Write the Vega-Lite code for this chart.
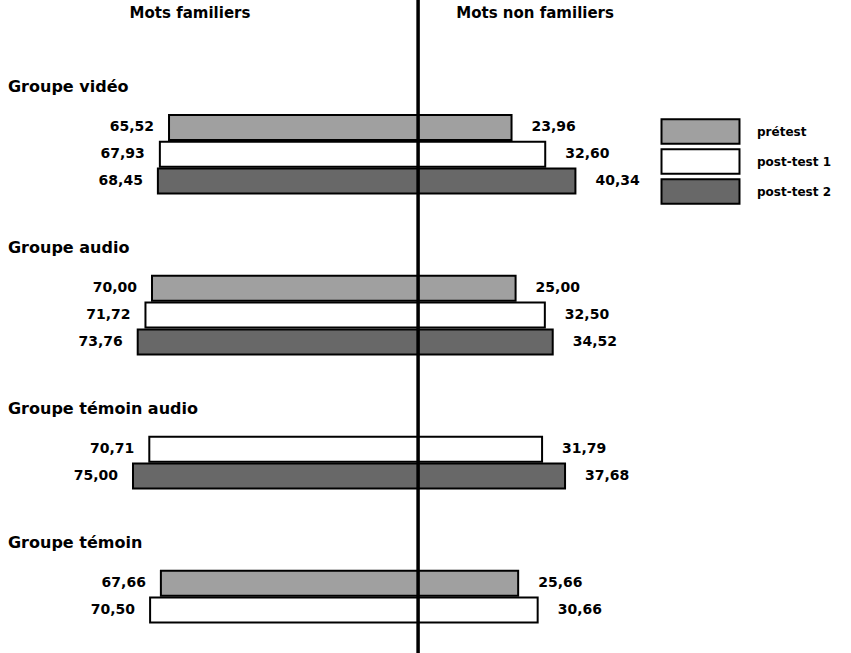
{
  "$schema": "https://vega.github.io/schema/vega-lite/v6.json",
  "width": 851,
  "height": 657,
  "padding": 0,
  "autosize": {"type": "none"},
  "background": "white",
  "config": {
    "view": {"stroke": null},
    "font": "DejaVu Sans",
    "locale": {"number": {"decimal": ",", "thousands": " ", "grouping": [3], "currency": ["", " €"]}},
    "text": {"font": "DejaVu Sans", "fontWeight": "bold", "fontSize": 14, "color": "black"}
  },
  "datasets": {
    "scores": [
      {"ligne": "vidéo prétest", "groupe": "Groupe vidéo", "test": "prétest", "familiers": 65.52, "non_familiers": 23.96},
      {"ligne": "vidéo post-test 1", "groupe": "Groupe vidéo", "test": "post-test 1", "familiers": 67.93, "non_familiers": 32.60},
      {"ligne": "vidéo post-test 2", "groupe": "Groupe vidéo", "test": "post-test 2", "familiers": 68.45, "non_familiers": 40.34},
      {"ligne": "audio prétest", "groupe": "Groupe audio", "test": "prétest", "familiers": 70.00, "non_familiers": 25.00},
      {"ligne": "audio post-test 1", "groupe": "Groupe audio", "test": "post-test 1", "familiers": 71.72, "non_familiers": 32.50},
      {"ligne": "audio post-test 2", "groupe": "Groupe audio", "test": "post-test 2", "familiers": 73.76, "non_familiers": 34.52},
      {"ligne": "témoin audio post-test 1", "groupe": "Groupe témoin audio", "test": "post-test 1", "familiers": 70.71, "non_familiers": 31.79},
      {"ligne": "témoin audio post-test 2", "groupe": "Groupe témoin audio", "test": "post-test 2", "familiers": 75.00, "non_familiers": 37.68},
      {"ligne": "témoin prétest", "groupe": "Groupe témoin", "test": "prétest", "familiers": 67.66, "non_familiers": 25.66},
      {"ligne": "témoin post-test 1", "groupe": "Groupe témoin", "test": "post-test 1", "familiers": 70.50, "non_familiers": 30.66}
    ],
    "groupes": [
      {"ligne": "Groupe vidéo"},
      {"ligne": "Groupe audio"},
      {"ligne": "Groupe témoin audio"},
      {"ligne": "Groupe témoin"}
    ],
    "entetes": [
      {"ligne": "entête", "cote": "familiers", "texte": "Mots familiers"},
      {"ligne": "entête", "cote": "non familiers", "texte": "Mots non familiers"}
    ],
    "centre": [{"valeur": 0}]
  },
  "layer": [
    {
      "data": {"name": "scores"},
      "mark": {"type": "bar", "height": 25, "stroke": "black", "strokeWidth": 2},
      "encoding": {
        "y": {
          "field": "ligne",
          "type": "nominal",
          "axis": null,
          "scale": {
            "paddingInner": 0,
            "paddingOuter": 0,
            "domain": [
              "entête", "s1", "s2", "s3", "s4", "s5",
              "Groupe vidéo", "s6", "s7",
              "vidéo prétest", "s8", "vidéo post-test 1", "s9", "vidéo post-test 2",
              "s10", "s11", "s12", "s13",
              "Groupe audio", "s14", "s15",
              "audio prétest", "s16", "audio post-test 1", "s17", "audio post-test 2",
              "s18", "s19", "s20", "s21",
              "Groupe témoin audio", "s22", "s23",
              "témoin audio post-test 1", "s24", "témoin audio post-test 2",
              "s25", "s26", "s27", "s28",
              "Groupe témoin", "s29", "s30",
              "témoin prétest", "s31", "témoin post-test 1",
              "s32", "s33", "s34"
            ]
          }
        },
        "x": {"field": "familiers", "type": "quantitative", "axis": null,
              "scale": {"domain": [-113.95, 110], "reverse": true, "nice": false, "zero": false}},
        "x2": {"datum": 0},
        "fill": {"field": "test", "type": "nominal",
                 "scale": {"domain": ["prétest", "post-test 1", "post-test 2"], "range": ["#a0a0a0", "#ffffff", "#686868"]},
                 "legend": {
                   "title": null, "orient": "none", "legendX": 687, "legendY": 118,
                   "symbolType": "M-3.2,-1H3.2V1H-3.2Z", "symbolSize": 594,
                   "symbolStrokeColor": "black", "symbolStrokeWidth": 2,
                   "labelFont": "DejaVu Sans", "labelFontWeight": "bold", "labelFontSize": 12,
                   "labelColor": "black", "labelOffset": 43, "rowPadding": -3
                 }}
      }
    },
    {
      "data": {"name": "scores"},
      "mark": {"type": "bar", "height": 25, "stroke": "black", "strokeWidth": 2},
      "encoding": {
        "y": {"field": "ligne", "type": "nominal"},
        "x": {"field": "non_familiers", "type": "quantitative", "axis": null,
              "scale": {"domain": [-107.2, 111], "nice": false, "zero": false}},
        "x2": {"datum": 0},
        "fill": {"field": "test", "type": "nominal"}
      }
    },
    {
      "data": {"name": "scores"},
      "mark": {"type": "text", "align": "right", "dx": -15},
      "encoding": {
        "y": {"field": "ligne", "type": "nominal"},
        "x": {"field": "familiers", "type": "quantitative", "axis": null,
              "scale": {"domain": [-113.95, 110], "reverse": true, "nice": false, "zero": false}},
        "text": {"field": "familiers", "type": "quantitative", "format": ".2f"}
      }
    },
    {
      "data": {"name": "scores"},
      "mark": {"type": "text", "align": "left", "dx": 20},
      "encoding": {
        "y": {"field": "ligne", "type": "nominal"},
        "x": {"field": "non_familiers", "type": "quantitative", "axis": null,
              "scale": {"domain": [-107.2, 111], "nice": false, "zero": false}},
        "text": {"field": "non_familiers", "type": "quantitative", "format": ".2f"}
      }
    },
    {
      "data": {"name": "groupes"},
      "mark": {"type": "text", "align": "left", "fontSize": 16},
      "encoding": {
        "y": {"field": "ligne", "type": "nominal"},
        "x": {"datum": 107.9, "type": "quantitative", "axis": null,
              "scale": {"domain": [-113.95, 110], "reverse": true, "nice": false, "zero": false}},
        "text": {"field": "ligne", "type": "nominal"}
      }
    },
    {
      "data": {"name": "entetes"},
      "transform": [{"filter": "datum.cote === 'familiers'"}],
      "mark": {"type": "text", "align": "center", "dy": 6, "fontSize": 15},
      "encoding": {
        "y": {"field": "ligne", "type": "nominal"},
        "x": {"datum": 60, "type": "quantitative", "axis": null,
              "scale": {"domain": [-113.95, 110], "reverse": true, "nice": false, "zero": false}},
        "text": {"field": "texte", "type": "nominal"}
      }
    },
    {
      "data": {"name": "entetes"},
      "transform": [{"filter": "datum.cote === 'non familiers'"}],
      "mark": {"type": "text", "align": "center", "dy": 6, "fontSize": 15},
      "encoding": {
        "y": {"field": "ligne", "type": "nominal"},
        "x": {"datum": 30, "type": "quantitative", "axis": null,
              "scale": {"domain": [-107.2, 111], "nice": false, "zero": false}},
        "text": {"field": "texte", "type": "nominal"}
      }
    },
    {
      "data": {"name": "centre"},
      "mark": {"type": "rule", "color": "black", "strokeWidth": 3.5},
      "encoding": {
        "x": {"field": "valeur", "type": "quantitative", "axis": null,
              "scale": {"domain": [-107.2, 111], "nice": false, "zero": false}}
      }
    }
  ],
  "resolve": {"scale": {"x": "independent"}}
}
